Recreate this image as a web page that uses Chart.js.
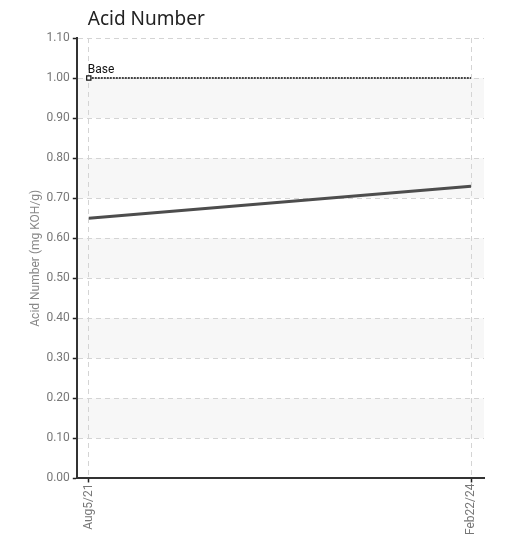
<!DOCTYPE html>
<html>
<head>
<meta charset="utf-8">
<script src="https://cdn.jsdelivr.net/npm/chart.js@4/dist/chart.umd.min.js"></script>
<style>
  html, body { margin: 0; padding: 0; background: #fff; }
  #wrap { width: 508px; height: 536px; }
</style>
</head>
<body>
<div id="wrap"><canvas id="acidChart" width="508" height="536"></canvas></div>
<script>
// sample dates (x index) and readings
const dateLabels = ['Aug5/21', 'Feb22/24'];
const acidValues = [0.65, 0.73];
const baseValues = [1.00, 1.00];
const yTickValues = [0, 0.1, 0.2, 0.3, 0.4, 0.5, 0.6, 0.7, 0.8, 0.9, 1.0, 1.1];

const narrowFont = "'Roboto', sans-serif";

// alternating grey bands between the y ticks
const bandPlugin = {
    id: 'bands',
    beforeDraw(chart) {
        const area = chart.chartArea;
        const y = chart.scales.y;
        const ctx = chart.ctx;
        ctx.save();
        ctx.fillStyle = '#f7f7f7';
        for (let i = 1; i < yTickValues.length - 1; i += 2) {
            const top = y.getPixelForValue(yTickValues[i + 1]);
            const bottom = y.getPixelForValue(yTickValues[i]);
            ctx.fillRect(area.left, top, area.right - area.left, bottom - top);
        }
        ctx.restore();
    }
};

// title and "Base" label
const textPlugin = {
    id: 'texts',
    afterDraw(chart) {
        const ctx = chart.ctx;
        const area = chart.chartArea;
        ctx.save();
        ctx.fillStyle = '#222';
        ctx.font = "19px 'Noto Sans', sans-serif";
        ctx.textAlign = 'left';
        ctx.textBaseline = 'alphabetic';
        ctx.fillText('Acid Number', area.left + 11, 25);

        const pt = chart.getDatasetMeta(1).data[0];
        ctx.fillStyle = '#111';
        ctx.font = '12px ' + narrowFont;
        ctx.fillText('Base', pt.x - 1, pt.y - 5);
        ctx.restore();
    }
};

const ctx = document.getElementById('acidChart').getContext('2d');
new Chart(ctx, {
    type: 'line',
    data: {
        datasets: [
            {
                label: 'Acid Number',
                data: acidValues.map((v, i) => ({ x: i, y: v })),
                borderColor: '#4d4d4d',
                borderWidth: 3,
                pointRadius: 0,
                fill: false
            },
            {
                label: 'Base',
                data: baseValues.map((v, i) => ({ x: i, y: v })),
                borderColor: '#444',
                borderWidth: 2,
                borderDash: [2, 1],
                pointStyle: 'rect',
                pointRadius: [3, 0],
                pointBorderWidth: 1.2,
                pointBorderColor: '#111',
                pointBackgroundColor: '#fff',
                fill: false
            }
        ]
    },
    options: {
        responsive: false,
        animation: false,
        layout: { padding: { top: 38, right: 24, left: 29, bottom: 0 } },
        plugins: {
            legend: { display: false },
            title: { display: false },
            tooltip: { enabled: false }
        },
        scales: {
            x: {
                type: 'linear',
                min: -0.0314,
                max: 1.034,
                afterBuildTicks: axis => { axis.ticks = dateLabels.map((l, i) => ({ value: i })); },
                ticks: {
                    callback: (v) => dateLabels[v],
                    minRotation: 90,
                    maxRotation: 90,
                    padding: 1,
                    color: '#777',
                    font: { family: narrowFont, size: 12 }
                },
                grid: {
                    color: '#d4d4d4',
                    tickColor: '#222',
                    tickLength: 4,
                    tickWidth: 1.5
                },
                border: { color: '#333', width: 2, dash: [5, 4] }
            },
            y: {
                min: 0,
                max: 1.1,
                afterBuildTicks: axis => { axis.ticks = yTickValues.map(v => ({ value: v })); },
                ticks: {
                    callback: (v) => Number(v).toFixed(2),
                    padding: 3,
                    color: '#777',
                    font: { family: narrowFont, size: 12 }
                },
                title: {
                    display: true,
                    text: 'Acid Number (mg KOH/g)',
                    color: '#888',
                    padding: 0,
                    font: { family: narrowFont, size: 12 }
                },
                grid: {
                    color: '#d4d4d4',
                    tickColor: '#222',
                    tickLength: 4,
                    tickWidth: 1.5
                },
                border: { color: '#333', width: 2, dash: [5, 4] }
            }
        }
    },
    plugins: [bandPlugin, textPlugin]
});
</script>
</body>
</html>
